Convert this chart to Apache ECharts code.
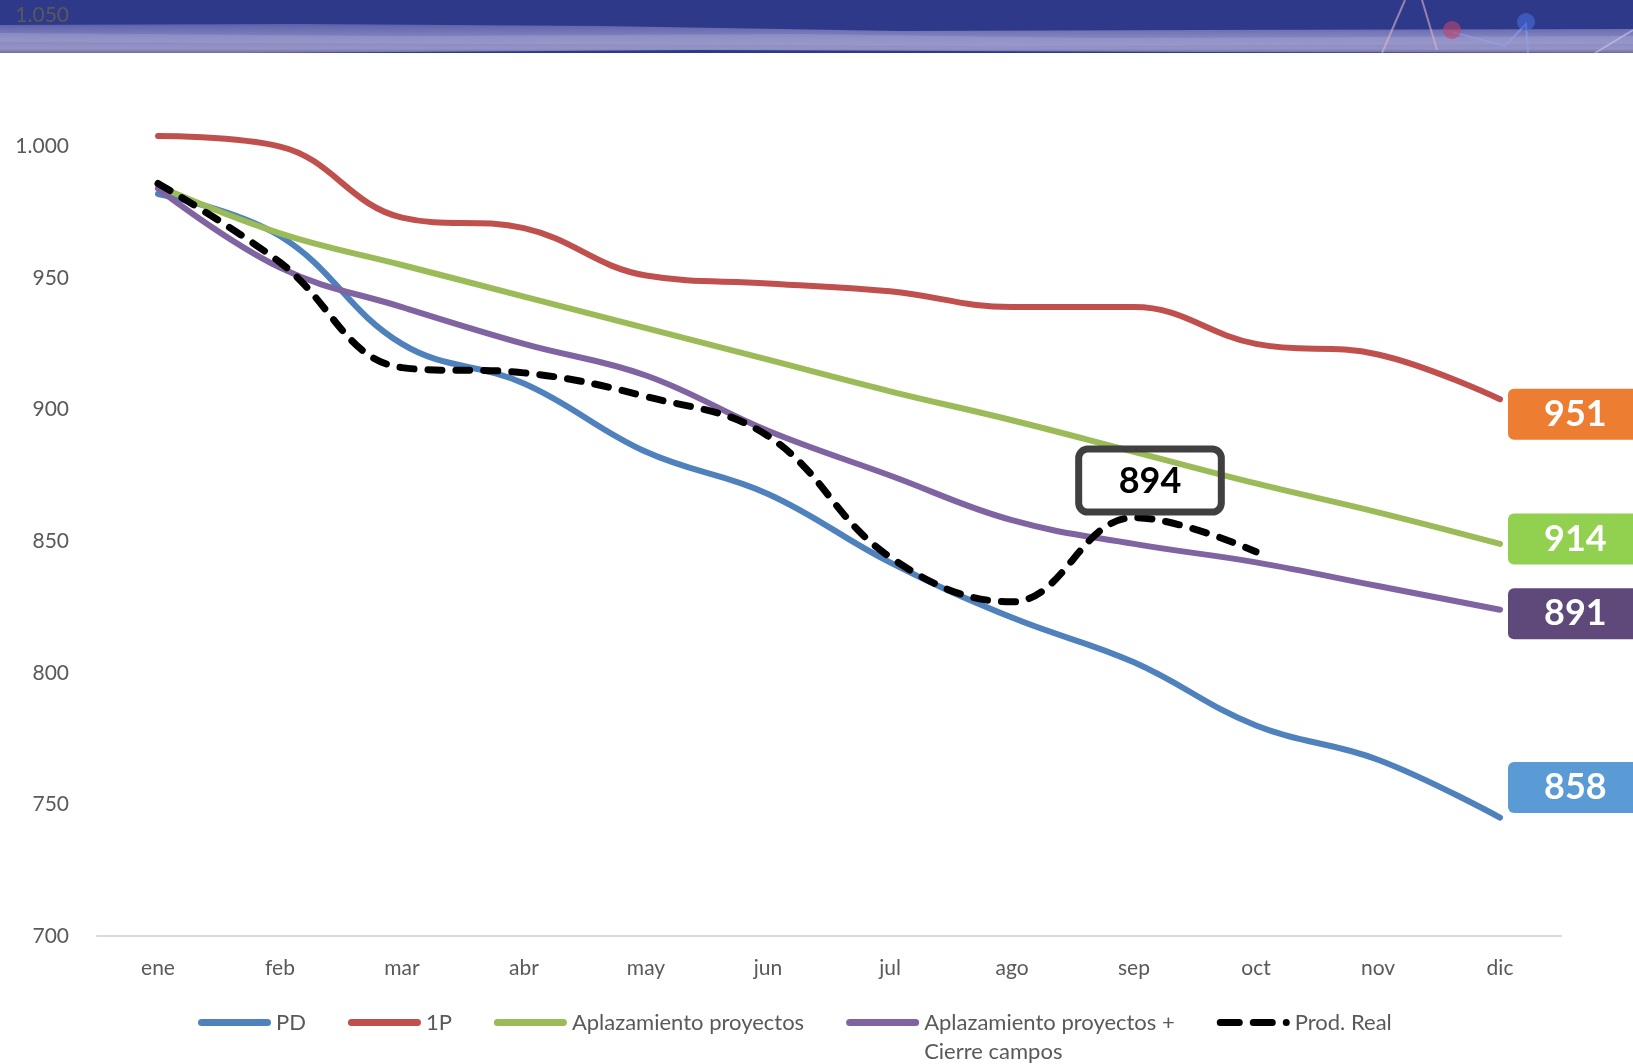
<!DOCTYPE html>
<html>
<head>
<meta charset="utf-8">
<script src="https://cdn.jsdelivr.net/npm/echarts@6/dist/echarts.min.js"></script>
<style>
html,body{margin:0;padding:0;background:#fff;}
#chart{width:1633px;height:1064px;}
</style>
</head>
<body>
<div id="chart"></div>
<script>
// ---- data ----
const categories = ['ene','feb','mar','abr','may','jun','jul','ago','sep','oct','nov','dic'];
const pd          = [982, 966, 925, 910, 884, 868, 842, 821, 804, 780, 767, 745];
const p1          = [1004, 1000, 973, 969, 951, 948, 945, 939, 939, 925, 921, 904];
const aplaz       = [985, 967, 955, 943, 931, 919, 907, 896, 884, 872, 861, 849];
const aplazCierre = [984, 954, 939, 925, 913, 892, 875, 858, 849, 842, 833, 824];
const prodReal    = [986, 956, 916, 914, 905, 890, 844, 827, 859, 846];
const seriesNames = ['PD', '1P', 'Aplazamiento proyectos', 'Aplazamiento proyectos + Cierre campos', 'Prod. Real'];
const endValues   = [858, 951, 914, 891];   // boxed totals at the right
const realTotal   = 894;                     // boxed value over Prod. Real
const realTotalIndex = 8;
const yMin = 700, yMax = 1050, yStep = 50;

const FONT = 'Lato, "Open Sans", sans-serif';
const chart = echarts.init(document.getElementById('chart'), null, {renderer: 'canvas'});

function fmtThousands(v) {
  if (v >= 1000) return Math.floor(v / 1000) + '.' + String(v % 1000).padStart(3, '0');
  return String(v);
}

function endLabel(text, bg, dy) {
  return {
    show: true,
    formatter: String(text),
    distance: 8,
    offset: [0, dy],
    backgroundColor: bg,
    borderRadius: 6,
    padding: [5, 40, 3, 36],
    color: '#fff',
    fontFamily: FONT,
    fontWeight: 'bold',
    fontSize: 36,
    lineHeight: 43
  };
}

const lineBase = (name, data, color) => ({
  name, type: 'line', data, smooth: 0.4, symbol: 'none',
  color,
  lineStyle: {width: 6, color, cap: 'round', join: 'round'},
  emphasis: {disabled: true}
});

const pill = 'path://M3.5,0 H69.5 A3.5,3.5 0 0 1 69.5,7 H3.5 A3.5,3.5 0 0 1 3.5,0 Z';
const dashIcon = 'path://M3.5,0 H22.5 A3.5,3.5 0 0 1 22.5,7 H3.5 A3.5,3.5 0 0 1 3.5,0 Z M36.5,0 H55.5 A3.5,3.5 0 0 1 55.5,7 H36.5 A3.5,3.5 0 0 1 36.5,0 Z M69.5,0 A3.5,3.5 0 0 1 69.5,7 A3.5,3.5 0 0 1 69.5,0 Z';

const option = {
  animation: false,
  backgroundColor: '#fff',
  textStyle: {fontFamily: FONT},
  grid: {left: 97, right: 72, top: 15, bottom: 128, containLabel: false},
  xAxis: {
    type: 'category',
    data: categories,
    boundaryGap: true,
    axisLine: {lineStyle: {color: '#D9D9D9', width: 2}},
    axisTick: {show: false},
    axisLabel: {color: '#595959', fontSize: 21, fontFamily: FONT, margin: 22}
  },
  yAxis: {
    type: 'value',
    min: yMin, max: yMax, interval: yStep,
    z: 10,
    axisLine: {show: false},
    axisTick: {show: false},
    splitLine: {show: false},
    axisLabel: {color: '#595959', fontSize: 21, fontFamily: FONT, margin: 28, formatter: fmtThousands}
  },
  legend: {
    left: 198,
    top: 979,
    padding: 0,
    itemWidth: 73,
    itemHeight: 7,
    itemGap: 42,
    selectedMode: false,
    itemStyle: {borderWidth: 0},
    textStyle: {color: '#595959', fontSize: 22, fontFamily: FONT, lineHeight: 29},
    formatter: n => n.indexOf(' + ') >= 0 ? ' \n' + n.replace(' + ', ' +\n') : n,
    data: [
      {name: seriesNames[0], icon: pill},
      {name: seriesNames[1], icon: pill},
      {name: seriesNames[2], icon: pill},
      {name: seriesNames[3], icon: pill},
      {name: seriesNames[4], icon: dashIcon}
    ]
  },
  graphic: [
    {type: 'rect', z: -10, shape: {x: 0, y: 0, width: 1633, height: 53}, style: {fill: '#2E3A89'}},
    {type: 'polygon', z: -9, shape: {points: [[0,25],[300,24],[600,26],[900,31],[1200,30],[1633,29],[1633,53],[1200,52],[700,50],[250,53],[0,53]]},
      style: {fill: new echarts.graphic.LinearGradient(0,0,0,1,[{offset:0,color:'#5D62AA'},{offset:0.5,color:'#8686BF'},{offset:0.85,color:'#9393C6'},{offset:1,color:'#6E6E9E'}])}},
    {type: 'polygon', z: -8, shape: {points: [[0,33],[400,36],[800,34],[1100,38],[1633,36],[1633,44],[1000,46],[500,44],[0,42]]},
      style: {fill: 'rgba(170,170,215,0.35)'}},
    {type: 'polyline', z: -7, shape: {points: [[1405,0],[1382,53]]}, style: {stroke: 'rgba(220,180,200,0.6)', lineWidth: 2}},
    {type: 'polyline', z: -7, shape: {points: [[1422,0],[1437,50]]}, style: {stroke: 'rgba(220,180,200,0.6)', lineWidth: 2}},
    {type: 'polyline', z: -7, shape: {points: [[1452,32],[1505,46],[1526,24],[1528,53]]}, style: {stroke: 'rgba(150,160,230,0.6)', lineWidth: 2}},
    {type: 'polyline', z: -7, shape: {points: [[1633,30],[1595,53]]}, style: {stroke: 'rgba(200,200,230,0.6)', lineWidth: 2}},
    {type: 'circle', z: -7, shape: {cx: 1452, cy: 30, r: 9}, style: {fill: 'rgba(190,70,110,0.6)'}},
    {type: 'circle', z: -7, shape: {cx: 1526, cy: 22, r: 9}, style: {fill: 'rgba(70,110,220,0.6)'}}
  ],
  series: [
    Object.assign(lineBase(seriesNames[0], pd, '#4F81BD'), {endLabel: endLabel(endValues[0], '#5B9BD5', -30)}),
    Object.assign(lineBase(seriesNames[1], p1, '#C0504D'), {endLabel: endLabel(endValues[1], '#ED7D31', 15)}),
    Object.assign(lineBase(seriesNames[2], aplaz, '#9BBB59'), {endLabel: endLabel(endValues[2], '#92D050', -5)}),
    Object.assign(lineBase(seriesNames[3], aplazCierre, '#8064A2'), {endLabel: endLabel(endValues[3], '#5F497A', 4)}),
    Object.assign(lineBase(seriesNames[4], prodReal, '#000000'), {
      lineStyle: {width: 7, color: '#000', type: [14, 14], cap: 'round', join: 'round'},
      z: 3,
      markPoint: {
        symbol: 'circle', symbolSize: 1,
        itemStyle: {color: 'rgba(0,0,0,0)'},
        label: {
          show: true, position: 'top', distance: 5, offset: [16, 0],
          formatter: String(realTotal),
          color: '#000', fontFamily: FONT, fontWeight: 'bold', fontSize: 36, lineHeight: 43,
          backgroundColor: 'rgba(0,0,0,0)',
          borderColor: '#404040', borderWidth: 3.5, borderRadius: 9,
          padding: [11, 40, 9, 40]
        },
        data: [{coord: [categories[realTotalIndex], prodReal[realTotalIndex]]}]
      }
    })
  ]
};
chart.setOption(option);
</script>
</body>
</html>
